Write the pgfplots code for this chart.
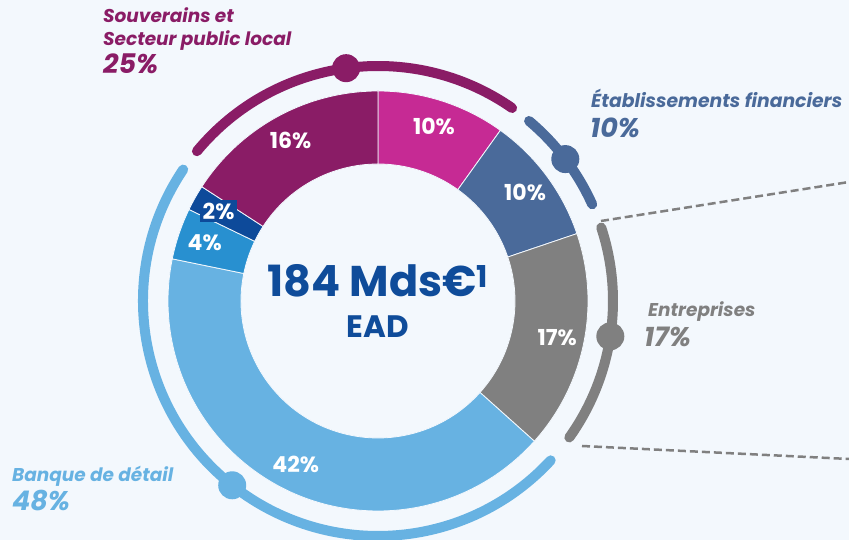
\documentclass[border=0pt]{standalone}
\usepackage{fontspec}
\setmainfont{Poppins}
\usepackage{pgfplots}
\usepackage{pgfplotstable}
\pgfplotsset{compat=1.18}

\definecolor{bg}{HTML}{F3F8FD}
\definecolor{cpurple}{HTML}{8A1C66}
\definecolor{cpink}{HTML}{C62A94}
\definecolor{csteel}{HTML}{4A6A9A}
\definecolor{cgray}{HTML}{808080}
\definecolor{clight}{HTML}{67B2E2}
\definecolor{cmed}{HTML}{2890D0}
\definecolor{cdark}{HTML}{0D4A9A}
\definecolor{ctitle}{HTML}{0F4C9A}

% segments, clockwise from the top
\pgfplotstableread{
val col     box
10  cpink   0
10  csteel  0
17  cgray   0
42  clight  0
4   cmed    0
2   cdark   1
16  cpurple 0
}\segtable

% outer group arcs (angles in degrees)
\pgfplotstableread{
from  to    col
140.4 55.2  cpurple
50.0  24.3  csteel
18.2  -35.5 cgray
146.0 317.3 clight
}\ringtable

\begin{document}%
\def\cum{0}%
\pgfplotstableforeachcolumnelement{val}\of\segtable\as\vv{%
  \pgfmathsetmacro\sa{90-\cum/101*360}%
  \pgfmathsetmacro\cumn{\cum+\vv}%
  \pgfmathsetmacro\sb{90-\cumn/101*360}%
  \pgfmathsetmacro\sm{(\sa+\sb)/2}%
  \expandafter\xdef\csname segA\pgfplotstablerow\endcsname{\sa}%
  \expandafter\xdef\csname segB\pgfplotstablerow\endcsname{\sb}%
  \expandafter\xdef\csname segM\pgfplotstablerow\endcsname{\sm}%
  \expandafter\xdef\csname segV\pgfplotstablerow\endcsname{\vv}%
  \pgfplotstablegetelem{\pgfplotstablerow}{col}\of\segtable%
  \colorlet{seg\pgfplotstablerow}{\pgfplotsretval}%
  \pgfplotstablegetelem{\pgfplotstablerow}{box}\of\segtable%
  \expandafter\xdef\csname segO\pgfplotstablerow\endcsname{\pgfplotsretval}%
  \xdef\cum{\cumn}%
}%
\pgfplotstableforeachcolumnelement{from}\of\ringtable\as\ff{%
  \pgfplotstablegetelem{\pgfplotstablerow}{to}\of\ringtable%
  \let\tt\pgfplotsretval%
  \pgfmathsetmacro\mm{(\ff+\tt)/2}%
  \expandafter\xdef\csname ringF\pgfplotstablerow\endcsname{\ff}%
  \expandafter\xdef\csname ringT\pgfplotstablerow\endcsname{\tt}%
  \expandafter\xdef\csname ringM\pgfplotstablerow\endcsname{\mm}%
  \pgfplotstablegetelem{\pgfplotstablerow}{col}\of\ringtable%
  \colorlet{ring\pgfplotstablerow}{\pgfplotsretval}%
}%
\begin{tikzpicture}
\begin{axis}[
  x=1pt, y=1pt, scale only axis,
  xmin=0, xmax=849, ymin=0, ymax=540,
  axis lines=none, ticks=none, clip=false,
]
\coordinate (sw) at (axis cs:0,0);
\coordinate (ne) at (axis cs:849,540);
\fill[bg] (axis cs:0,0) rectangle (axis cs:849,540);
% donut
\pgfplotsinvokeforeach{0,...,6}{
  \fill[seg#1, draw=bg, line width=0.8pt, shift={(axis cs:378,239)}]
    (\csname segA#1\endcsname:210pt)
    arc[start angle=\csname segA#1\endcsname, end angle=\csname segB#1\endcsname, radius=210pt]
    -- (\csname segB#1\endcsname:137pt)
    arc[start angle=\csname segB#1\endcsname, end angle=\csname segA#1\endcsname, radius=137pt]
    -- cycle;
}
\pgfplotsinvokeforeach{0,...,6}{
  \node[shift={(axis cs:378,239)}, text=white, text opacity=1,
        fill=seg#1, fill opacity=\csname segO#1\endcsname, inner sep=3pt,
        font=\fontsize{22}{24}\selectfont\bfseries]
    at (\csname segM#1\endcsname:183pt) {\csname segV#1\endcsname\%};
}
% group arcs
\pgfplotsinvokeforeach{0,...,3}{
  \draw[ring#1, line width=10pt, line cap=round, shift={(axis cs:378,239)}]
    (\csname ringF#1\endcsname:235pt)
    arc[start angle=\csname ringF#1\endcsname, end angle=\csname ringT#1\endcsname, radius=235pt];
  \fill[ring#1, shift={(axis cs:378,239)}] (\csname ringM#1\endcsname:235pt) circle[radius=14pt];
}
% dashed leaders
\draw[cgray, line width=2.5pt, dash pattern=on 8pt off 4pt] (axis cs:601,319) -- (axis cs:849,358);
\draw[cgray, line width=2.5pt, dash pattern=on 8pt off 4pt] (axis cs:582,94) -- (axis cs:849,81);
% centre
\node[ctitle, font=\fontsize{43}{48}\selectfont\bfseries, anchor=base] at (axis cs:378,243)
  {184 Mds€\textsuperscript{1}};
\node[ctitle, font=\fontsize{31}{34}\selectfont\bfseries, anchor=base] at (axis cs:378,202) {EAD};
% group labels
\begin{scope}[every node/.style={anchor=base west, inner sep=0pt}]
\node[cpurple, font=\fontsize{18.5}{20}\selectfont\bfseries\itshape] at (axis cs:103,517) {Souverains et};
\node[cpurple, font=\fontsize{18.5}{20}\selectfont\bfseries\itshape] at (axis cs:103,494) {Secteur public local};
\node[cpurple, font=\fontsize{27}{30}\selectfont\bfseries\itshape] at (axis cs:103,466) {25\%};
\node[csteel, font=\fontsize{18.8}{20}\selectfont\bfseries\itshape] at (axis cs:591,432) {Établissements financiers};
\node[csteel, font=\fontsize{27}{30}\selectfont\bfseries\itshape] at (axis cs:590,402) {10\%};
\node[cgray, font=\fontsize{18.5}{20}\selectfont\bfseries\itshape] at (axis cs:648,223) {Entreprises};
\node[cgray, font=\fontsize{27}{30}\selectfont\bfseries\itshape] at (axis cs:644,193) {17\%};
\node[clight, font=\fontsize{18.5}{20}\selectfont\bfseries\itshape] at (axis cs:12,58) {Banque de détail};
\node[clight, font=\fontsize{27}{30}\selectfont\bfseries\itshape] at (axis cs:12,29) {48\%};
\end{scope}
\end{axis}
\pgfresetboundingbox
\useasboundingbox (sw) rectangle (ne);
\end{tikzpicture}%
\end{document}
